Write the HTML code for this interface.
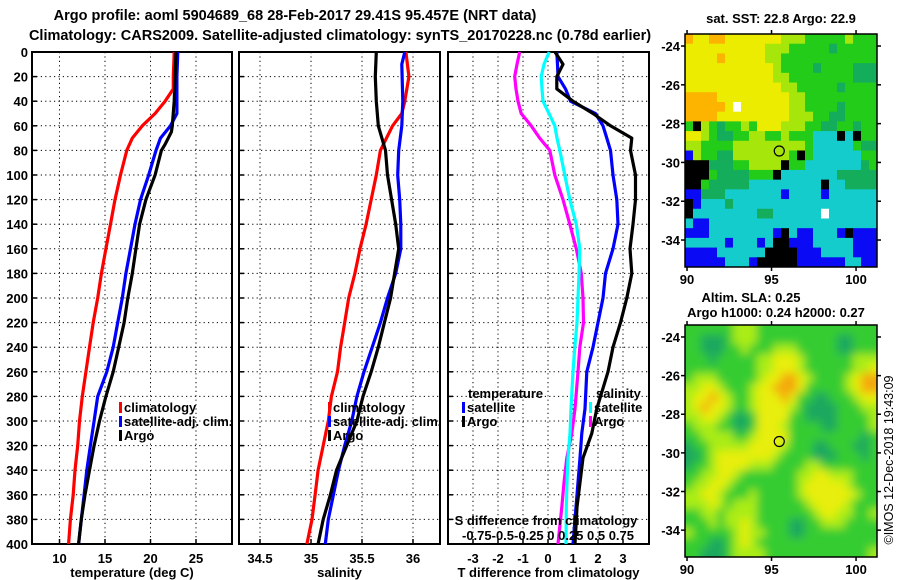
<!DOCTYPE html>
<html><head><meta charset="utf-8">
<style>
html,body{margin:0;padding:0;background:#fff;}
svg{display:block;font-family:"Liberation Sans",Arial,sans-serif;font-weight:bold;}
</style></head>
<body>
<svg id="fig" width="900" height="580" viewBox="0 0 900 580">
<defs>
<filter id="smooth" x="-5%" y="-5%" width="110%" height="110%"><feGaussianBlur stdDeviation="4.5"/></filter>
<clipPath id="slaclip"><rect x="685" y="325" width="192" height="232"/></clipPath>
</defs>
<rect width="900" height="580" fill="#fff"/>
<text x="295" y="20" font-size="14.5" text-anchor="middle">Argo profile: aoml 5904689_68 28-Feb-2017 29.41S 95.457E (NRT data)</text>
<text x="340" y="40" font-size="14.5" text-anchor="middle">Climatology: CARS2009. Satellite-adjusted climatology: synTS_20170228.nc (0.78d earlier)</text>
<g id="panels"></g>
<g id="maps"></g>
<text transform="translate(893,460) rotate(-90)" font-size="12.5" font-weight="normal" text-anchor="middle">©IMOS 12-Dec-2018 19:43:09</text>
</svg>
<script>
// ---------- profile data ----------
const depthTicks = [0,20,40,60,80,100,120,140,160,180,200,220,240,260,280,300,320,340,360,380,400];
const tTicks = [10,15,20,25];
const sTicks = [34.5,35,35.5,36];
const dTTicks = [-3,-2,-1,0,1,2,3];
const dSTickLabels = ["-0.75","-0.5","-0.25","0","0.25","0.5","0.75"];

const tArgoDepth = [0,20,40,60,65,75,80,100,120,140,160,180,200,220,240,260,280,300,320,340,360,380,400];
const tArgoVals  = [22.8,22.7,22.6,22.4,22.3,21.6,21.2,20.5,19.5,18.8,18.4,18.0,17.5,17.1,16.5,15.9,15.1,14.4,13.8,13.3,12.8,12.4,12.1];
const tSatDepth = [0,20,50,60,70,80,100,120,140,160,180,200,220,240,260,280,300,320,340,360,380,400];
const tSatVals  = [23.0,22.9,22.9,22.2,21.1,20.6,19.8,18.9,18.3,17.8,17.3,16.9,16.4,15.9,15.2,14.2,13.8,13.4,13.0,12.7,12.4,12.1];
const tClimDepth = [0,20,30,40,50,60,70,80,100,120,140,160,180,200,220,240,260,280,300,320,340,360,380,400];
const tClimVals  = [22.6,22.5,22.5,21.6,20.5,19.1,18.0,17.4,16.7,16.1,15.6,15.1,14.6,14.2,13.7,13.3,12.9,12.5,12.2,12.0,11.7,11.5,11.2,11.0];

const sArgoDepth = [0,20,40,60,80,100,120,140,160,180,200,220,240,260,280,300,320,340,360,380,400];
const sArgoVals  = [35.64,35.63,35.64,35.66,35.73,35.75,35.79,35.83,35.86,35.82,35.78,35.72,35.66,35.59,35.51,35.45,35.35,35.25,35.19,35.12,35.07];
const sSatDepth = [0,10,40,60,80,100,120,140,160,180,200,220,240,260,280,300,320,340,360,380,400];
const sSatVals  = [35.92,35.89,35.90,35.89,35.86,35.85,35.87,35.88,35.88,35.83,35.75,35.68,35.60,35.52,35.45,35.40,35.33,35.27,35.22,35.17,35.14];
const sClimDepth = [0,20,40,50,60,70,80,100,120,140,160,180,200,220,240,260,280,300,320,340,360,380,400];
const sClimVals  = [35.93,35.96,35.92,35.89,35.80,35.74,35.68,35.64,35.59,35.54,35.48,35.43,35.37,35.33,35.29,35.26,35.20,35.17,35.12,35.07,35.04,35.01,34.96];

const dDepth = [0,10,20,30,40,50,60,70,80,100,120,140,160,180,200,220,240,260,290,310,330,350,370,400];
const dTArgo = [0.28,0.6,0.35,0.35,1.0,1.8,2.5,3.35,3.3,3.5,3.5,3.4,3.28,3.35,3.15,2.9,2.6,2.4,1.95,1.75,1.4,1.28,1.16,1.08];
const dTSat  = [0.35,0.38,0.4,0.7,0.9,1.9,2.2,2.35,2.5,2.6,2.75,2.8,2.6,2.3,2.2,2.0,1.8,1.55,1.48,1.35,1.28,1.2,1.12,1.0];
const dSSat  = [0.012,-0.04,-0.068,-0.06,-0.05,0.01,0.068,0.09,0.118,0.168,0.218,0.283,0.318,0.31,0.3,0.29,0.268,0.25,0.23,0.22,0.2,0.19,0.183,0.18];
const dSArgo = [-0.283,-0.31,-0.333,-0.32,-0.3,-0.268,-0.168,-0.083,0.018,0.068,0.15,0.218,0.283,0.333,0.35,0.355,0.318,0.3,0.27,0.238,0.188,0.16,0.138,0.1];

// ---------- layout ----------
const Y0 = 52, Y1 = 544;
const yScale = d => Y0 + d/400*(Y1-Y0);
const P1 = {x0:32,x1:232}, P2 = {x0:239,x1:440}, P3 = {x0:448,x1:649};
const x1Scale = t => 59.5 + (t-10)*9.1;
const x2Scale = s => 311 + (s-35)*102;
const x3Scale = d => 548 + d*25;
const x3SScale = s => 548 + s*100;

const NS = "http://www.w3.org/2000/svg";
const panels = document.getElementById('panels');
function mk(tag, attrs, parent){
  const e = document.createElementNS(NS, tag);
  for (const k in attrs) e.setAttribute(k, attrs[k]);
  (parent||panels).appendChild(e);
  return e;
}
function txt(x,y,s,size,anchor,parent){
  const t = mk('text',{x:x,y:y,'font-size':size,'text-anchor':anchor||'middle'},parent);
  t.textContent = s;
  return t;
}

function drawPanel(P, ticksX, scaleX, labels, title, pname){
  const g = mk('g',{});
  
  
  ticksX.forEach((v,i)=>{
    const x = scaleX(v);
    const l = mk('line',{x1:x,x2:x,y1:Y0,y2:Y1,stroke:'#000','stroke-width':1,'stroke-dasharray':'1.2,3.2'},g);
    
    
    mk('line',{x1:x,x2:x,y1:Y1,y2:Y1-5,stroke:'#000','stroke-width':1.5},g);
    const t = txt(x, 563, labels[i], 13, 'middle', g);
    
    
  });
  depthTicks.forEach(d=>{
    const y = yScale(d);
    if (d>0 && d<400){
      const l = mk('line',{x1:P.x0,x2:P.x1,y1:y,y2:y,stroke:'#000','stroke-width':1,'stroke-dasharray':'1.2,3.2'},g);
      
      
    }
    mk('line',{x1:P.x0,x2:P.x0+5,y1:y,y2:y,stroke:'#000','stroke-width':1.5},g);
  });
  const r = mk('rect',{x:P.x0,y:Y0,width:P.x1-P.x0,height:Y1-Y0,fill:'none',stroke:'#000','stroke-width':2},g);
  
  
  if (title){
    const t = txt((P.x0+P.x1)/2, 577, title, 13, 'middle', g);
    
    
  }
  return g;
}

function series(g, depths, vals, scaleX, color, name){
  const pts = depths.map((d,i)=>scaleX(vals[i]).toFixed(1)+','+yScale(d).toFixed(1)).join(' ');
  const p = mk('polyline',{points:pts,fill:'none',stroke:color,'stroke-width':3.2,'stroke-linejoin':'round'},g);
  
  
}

function legend(g, x, y, label, color, name){
  const r = mk('rect',{x:x,y:y-10,width:3,height:11,fill:color},g);
  
  
  const t = txt(x+5, y, label, 13, 'start', g);
  
  
}

depthTicks.forEach(d=>{
  const t = txt(28, yScale(d)+5, String(d), 13, 'end');
  
  
});

const g1 = drawPanel(P1, tTicks, x1Scale, tTicks.map(String), 'temperature (deg C)', 'temperature-panel');
series(g1, tClimDepth, tClimVals, x1Scale, '#f00', 'temp-climatology-line');
series(g1, tSatDepth, tSatVals, x1Scale, '#00f', 'temp-satellite-line');
series(g1, tArgoDepth, tArgoVals, x1Scale, '#000', 'temp-argo-line');
legend(g1, 119, 412, 'climatology', '#f00', 'legend-climatology');
legend(g1, 119, 426, 'satellite-adj. clim.', '#00f', 'legend-satellite');
legend(g1, 119, 440, 'Argo', '#000', 'legend-argo');

const g2 = drawPanel(P2, sTicks, x2Scale, sTicks.map(String), 'salinity', 'salinity-panel');
series(g2, sClimDepth, sClimVals, x2Scale, '#f00', 'sal-climatology-line');
series(g2, sSatDepth, sSatVals, x2Scale, '#00f', 'sal-satellite-line');
series(g2, sArgoDepth, sArgoVals, x2Scale, '#000', 'sal-argo-line');
legend(g2, 328, 412, 'climatology', '#f00', 'legend-climatology-s');
legend(g2, 328, 426, 'satellite-adj. clim.', '#00f', 'legend-satellite-s');
legend(g2, 328, 440, 'Argo', '#000', 'legend-argo-s');

const g3 = drawPanel(P3, dTTicks, x3Scale, dTTicks.map(String), 'T difference from climatology', 'difference-panel');
series(g3, dDepth, dSArgo, x3SScale, '#f0f', 'sdiff-argo-line');
series(g3, dDepth, dSSat, x3SScale, '#0ff', 'sdiff-satellite-line');
series(g3, dDepth, dTSat, x3Scale, '#00f', 'tdiff-satellite-line');
series(g3, dDepth, dTArgo, x3Scale, '#000', 'tdiff-argo-line');
legend(g3, 462, 412, 'satellite', '#00f', 'legend-t-satellite');
legend(g3, 462, 426, 'Argo', '#000', 'legend-t-argo');
legend(g3, 589, 412, 'satellite', '#0ff', 'legend-s-satellite');
legend(g3, 589, 426, 'Argo', '#f0f', 'legend-s-argo');
{
  let t = txt(468, 398, 'temperature', 13, 'start', g3);
  
  
  t = txt(596, 398, 'salinity', 13, 'start', g3);
  
  
  t = txt(546, 525, 'S difference from climatology', 13, 'middle', g3);
  
  
  t = txt(548, 540, dSTickLabels.join(' ').replace('-0.75 -0.5 -0.25','-0.75-0.5-0.25'), 13, 'middle', g3);
  
  
}

// ---------- maps ----------
const lonTicks = [90,95,100];
const latTicks = [-24,-26,-28,-30,-32,-34];
const mapLon = [89.88, 101.24];
const mapLat = [-23.38, -35.39];
const argoLon = 95.457, argoLat = -29.41;
const sstRows = [
"OYYOOYYYYYYYLLLGGGGGLGGG",
"YYYYYYYYYYLLLGGGGGDGGGGG",
"YYYYOYYYYYLLGGGGGGGGGGGG",
"YYYYYYYYYYYLGGGGDGGGGDDD",
"YYYYYYYYYYYLLGGGGGGGGDDD",
"YYYYYYYYYYYYLLGGGGGDGGGG",
"OOOOYYYYYYYYYLLGGGGGGGGG",
"OOOOOYWYYYYYYLLGGGGDGGGG",
"OOOOYYYYYYYYYLLLGGDDGGGG",
"GKLGDGGLGYYYLLLGGDDGGDGG",
"YYLGDDGGLLGGLGGGCCCKCKGG",
"LLGGGGLLLLLLLLLGCCCCCGDD",
"BLGGDDLLLLLLLGKGCCCCCCGG",
"KKKDDDGGLLLLKGGCCCCCCCDG",
"KKKGDDDDGGGKCCCCCCCDDDDD",
"KKGDDDDDCCCCCCCCCKCCDDDD",
"BBDDDCCCCCCCBCCCCBCCCCCC",
"KBCCCDCCCCCCCCCCCCCCCCCC",
"KCCCCCCCCDDCCCCCCWCCCCCC",
"CBBCCCCCCCCCCCCCCCCCCCCC",
"BBBCCCCCCCCBKCBBCCCBKBBB",
"CCCCCBCCCBCKKBBBCCCCCBBB",
"BBBBCCCCCCKKKKBBBCCCCBBB",
"BBBBBCCCBKKKKKBBBBBBCCBB"];
const slaRows = [
"GGGGGGLLLGGGGGGGGGGGGGGG",
"GGDDDGLLLGGGGGGGGGGDDGGG",
"GGDDDGGLGGGLLLGGGGGDDGGG",
"GGGDGGGGGLLYYYLGGGGGGLLL",
"GGGGGGGGGLLYYYLGGGGGGLLY",
"GLLLGGGGGLYYOOYLGGGGLYOO",
"LLYYLGGGLYYOOOYGGGGGLYOO",
"LYYOYLGGLYYYOYGGDDGGGLYY",
"LYOYYLGGLYYYYLGDDDDGGGLL",
"LLYYLGDDGYYYYGGDDDDGGGGL",
"GLLLGGDDGYYYLGGGGDDGGGGL",
"GGLLLLGGLYYYYGGGGGGGGGDG",
"DGGLLLLLYYYYLGGGDDGGGDDG",
"DDGLYYYYYYYLGGGGDDDGGGDG",
"DGGLYYYYLLLGGGGLLGGGGGGG",
"GGLLYYLGGGGGGGLLYYLLLGGG",
"GLLYYLGGGGGGGGLYYYYYLGGG",
"LLYYLGGGLGGGGGLYYYYYYLGG",
"LLLYLGLLLGGGGGGLYYYYLGGG",
"GGLLGLLLLGGGGGGGLYYLLGGL",
"GGGLGLLYLGGGGDDGGLLLGGGG",
"LGGGGGLYLLGGGDDGGGGGGGGG",
"GGGDDGLYLGGGGGGGGGGGGGGG",
"GGDDDGLLLLGGGGGGGGGGGGGL"];
const sstColors = {O:'#fcb400',Y:'#ecec00',L:'#a6e60a',G:'#22cc18',D:'#14ad5c',C:'#14cccc',B:'#0a0af5',K:'#000',W:'#fff'};
const slaColors = {O:'#f4a80c',Y:'#e8ee08',L:'#aaec14',G:'#36cc30',D:'#1aa85e'};

const maps = document.getElementById('maps');
function drawMap(y0, y1, rows, colors, pname, smooth){
  const X0 = 685, X1 = 877;
  const lonS = lon => X0 + (lon-mapLon[0])/(mapLon[1]-mapLon[0])*(X1-X0);
  const latS = lat => y0 + (lat-mapLat[0])/(mapLat[1]-mapLat[0])*(y1-y0);
  const g = mk('g',{},maps);
  
  
  const outer = mk('g', smooth ? {'clip-path':'url(#slaclip)'} : {}, g);
  const cg = mk('g', smooth ? {filter:'url(#smooth)'} : {}, outer);
  const nr = rows.length, nc = rows[0].length;
  const cw = (X1-X0)/nc, ch = (y1-y0)/nr;
  const pad = smooth ? 1 : 0;
  rows.forEach((row,r)=>{
    for (let c=0;c<nc;c++){
      let x = X0+c*cw, y = y0+r*ch, w = cw+0.4, h = ch+0.4;
      if (pad){
        if (c===0){x-=12; w+=12;}
        if (c===nc-1){w+=12;}
        if (r===0){y-=12; h+=12;}
        if (r===nr-1){h+=12;}
      }
      const cell = mk('rect',{x:x.toFixed(2),y:y.toFixed(2),width:w.toFixed(2),height:h.toFixed(2),fill:colors[row[c]]},cg);
      
      
    }
  });
  const fr = mk('rect',{x:X0,y:y0,width:X1-X0,height:y1-y0,fill:'none',stroke:'#000','stroke-width':1.5},g);
  
  
  lonTicks.forEach(l=>{
    const x = lonS(l);
    mk('line',{x1:x,x2:x,y1:y1,y2:y1+4,stroke:'#000','stroke-width':1.5},g);
    mk('line',{x1:x,x2:x,y1:y0,y2:y0-4,stroke:'#000','stroke-width':1.5},g);
    const t = txt(x, y1+17, String(l), 13, 'middle', g);
    
    
  });
  latTicks.forEach(l=>{
    const y = latS(l);
    mk('line',{x1:X0,x2:X0-4,y1:y,y2:y,stroke:'#000','stroke-width':1.5},g);
    mk('line',{x1:X1,x2:X1+4,y1:y,y2:y,stroke:'#000','stroke-width':1.5},g);
    const t = txt(680, y+5, String(l), 13, 'end', g);
    
    
  });
  const m = mk('circle',{cx:lonS(argoLon),cy:latS(argoLat),r:5,fill:'none',stroke:'#000','stroke-width':1.2},g);
  
  
}
drawMap(34, 267, sstRows, sstColors, 'sst-map', false);
drawMap(325, 557, slaRows, slaColors, 'sla-map', true);
{
  let t = txt(781, 23, 'sat. SST: 22.8 Argo: 22.9', 13, 'middle', maps);
  
  
  t = txt(751, 302, 'Altim. SLA: 0.25', 13, 'middle', maps);
  
  
  t = txt(776, 317, 'Argo h1000: 0.24 h2000: 0.27', 13, 'middle', maps);
  
  
}
</script>
</body></html>
